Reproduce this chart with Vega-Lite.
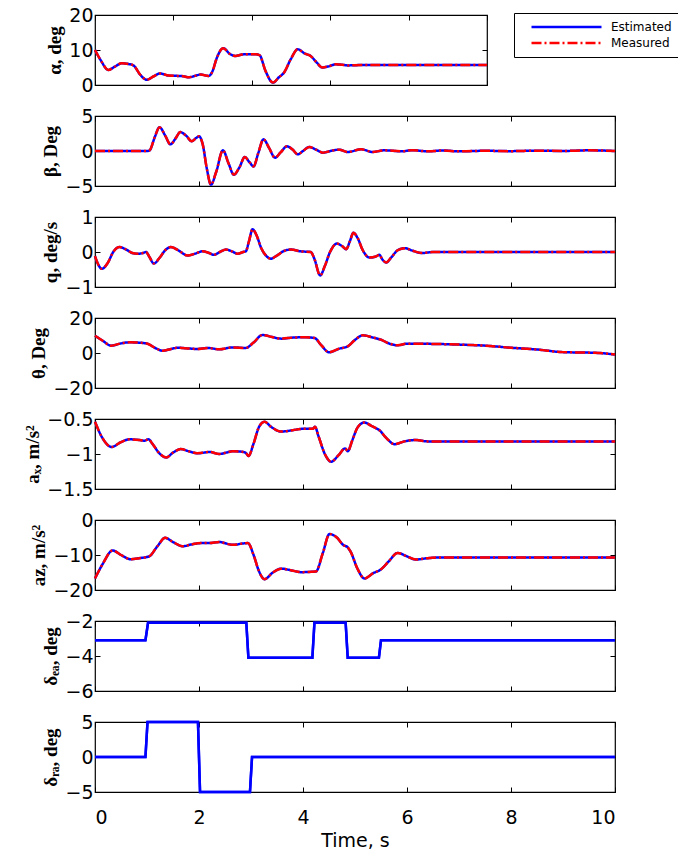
{
  "$schema": "https://vega.github.io/schema/vega-lite/v6.json",
  "padding": {"left": 23, "top": 5, "right": 0, "bottom": 5},
  "background": "white",
  "config": {
    "view": {"stroke": "black", "strokeWidth": 1.2},
    "axis": {"grid": false, "domain": false, "tickColor": "black", "tickSize": -5, "tickWidth": 1, "labelFont": "DejaVu Sans", "labelFontSize": 19, "labelColor": "black", "labelPadding": 7, "titleFont": "Liberation Serif", "titleFontWeight": "bold", "titleFontSize": 19, "titleColor": "black", "titlePadding": 4, "format": "~r"},
    "line": {"strokeWidth": 2.5}
  },
  "datasets": {
    "alpha": [{"t":0,"v":10.0},{"t":0.15,"v":7.0},{"t":0.34,"v":4.3},{"t":0.5,"v":5.2},{"t":0.68,"v":6.2},{"t":0.85,"v":6.0},{"t":0.98,"v":5.6},{"t":1.15,"v":3.0},{"t":1.32,"v":1.5},{"t":1.5,"v":2.5},{"t":1.66,"v":3.3},{"t":1.88,"v":2.7},{"t":2.1,"v":2.6},{"t":2.25,"v":2.5},{"t":2.39,"v":2.2},{"t":2.55,"v":2.6},{"t":2.69,"v":3.0},{"t":2.9,"v":2.6},{"t":3.0,"v":4.0},{"t":3.1,"v":7.5},{"t":3.27,"v":10.5},{"t":3.45,"v":8.8},{"t":3.58,"v":8.3},{"t":3.75,"v":8.7},{"t":3.88,"v":8.8},{"t":4.1,"v":8.8},{"t":4.2,"v":8.5},{"t":4.35,"v":4.0},{"t":4.54,"v":0.7},{"t":4.7,"v":2.3},{"t":4.82,"v":3.5},{"t":5.0,"v":7.5},{"t":5.17,"v":10.2},{"t":5.35,"v":9.0},{"t":5.5,"v":8.3},{"t":5.65,"v":6.5},{"t":5.8,"v":5.0},{"t":5.95,"v":5.3},{"t":6.14,"v":5.9},{"t":6.3,"v":5.8},{"t":6.44,"v":5.6},{"t":6.8,"v":5.7},{"t":7.5,"v":5.7},{"t":8.5,"v":5.7},{"t":10,"v":5.7}],
    "beta": [{"t":0,"v":0},{"t":0.5,"v":0},{"t":1.0,"v":0},{"t":1.05,"v":0.1},{"t":1.15,"v":2.0},{"t":1.24,"v":3.4},{"t":1.35,"v":2.2},{"t":1.45,"v":0.95},{"t":1.55,"v":1.8},{"t":1.64,"v":2.7},{"t":1.75,"v":2.2},{"t":1.86,"v":1.4},{"t":1.95,"v":1.9},{"t":2.0,"v":2.1},{"t":2.07,"v":1.0},{"t":2.15,"v":-2.5},{"t":2.23,"v":-4.8},{"t":2.33,"v":-3.0},{"t":2.46,"v":0.1},{"t":2.57,"v":-1.8},{"t":2.67,"v":-3.4},{"t":2.78,"v":-2.3},{"t":2.88,"v":-0.86},{"t":2.97,"v":-1.6},{"t":3.05,"v":-2.2},{"t":3.14,"v":-0.3},{"t":3.24,"v":1.67},{"t":3.35,"v":0.4},{"t":3.46,"v":-0.95},{"t":3.57,"v":-0.2},{"t":3.69,"v":0.67},{"t":3.8,"v":0.2},{"t":3.9,"v":-0.48},{"t":4.0,"v":0.0},{"t":4.12,"v":0.57},{"t":4.25,"v":0.2},{"t":4.38,"v":-0.24},{"t":4.55,"v":0.05},{"t":4.7,"v":0.19},{"t":4.86,"v":-0.14},{"t":5.12,"v":0.24},{"t":5.34,"v":-0.14},{"t":5.56,"v":0.1},{"t":5.9,"v":-0.05},{"t":6.1,"v":0.12},{"t":6.4,"v":-0.05},{"t":6.7,"v":0.08},{"t":7.0,"v":-0.05},{"t":7.5,"v":0.03},{"t":8.0,"v":-0.02},{"t":8.5,"v":0.05},{"t":9.0,"v":0.0},{"t":9.5,"v":0.1},{"t":10,"v":0.0}],
    "q": [{"t":0,"v":-0.12},{"t":0.06,"v":-0.35},{"t":0.13,"v":-0.48},{"t":0.25,"v":-0.3},{"t":0.35,"v":0.0},{"t":0.47,"v":0.14},{"t":0.6,"v":0.07},{"t":0.72,"v":-0.03},{"t":0.82,"v":-0.05},{"t":0.92,"v":-0.03},{"t":0.98,"v":0.0},{"t":1.05,"v":-0.15},{"t":1.13,"v":-0.33},{"t":1.25,"v":-0.15},{"t":1.35,"v":0.05},{"t":1.46,"v":0.14},{"t":1.6,"v":0.05},{"t":1.78,"v":-0.1},{"t":1.92,"v":-0.05},{"t":2.07,"v":0.02},{"t":2.18,"v":-0.02},{"t":2.29,"v":-0.08},{"t":2.4,"v":0.0},{"t":2.52,"v":0.07},{"t":2.63,"v":0.02},{"t":2.74,"v":-0.05},{"t":2.85,"v":0.0},{"t":2.9,"v":0.02},{"t":2.96,"v":0.3},{"t":3.03,"v":0.65},{"t":3.1,"v":0.5},{"t":3.2,"v":0.1},{"t":3.3,"v":-0.12},{"t":3.38,"v":-0.19},{"t":3.5,"v":-0.1},{"t":3.62,"v":0.02},{"t":3.77,"v":0.07},{"t":3.95,"v":0.02},{"t":4.15,"v":0.0},{"t":4.22,"v":-0.2},{"t":4.33,"v":-0.67},{"t":4.42,"v":-0.4},{"t":4.52,"v":0.0},{"t":4.65,"v":0.24},{"t":4.75,"v":0.17},{"t":4.83,"v":0.08},{"t":4.9,"v":0.3},{"t":4.97,"v":0.55},{"t":5.05,"v":0.4},{"t":5.15,"v":0.05},{"t":5.28,"v":-0.16},{"t":5.4,"v":-0.13},{"t":5.47,"v":-0.08},{"t":5.52,"v":-0.2},{"t":5.6,"v":-0.3},{"t":5.7,"v":-0.15},{"t":5.82,"v":0.05},{"t":5.96,"v":0.11},{"t":6.1,"v":0.04},{"t":6.29,"v":-0.03},{"t":6.5,"v":0.0},{"t":7.0,"v":0.0},{"t":10,"v":0.0}],
    "theta": [{"t":0,"v":9.9},{"t":0.15,"v":7.0},{"t":0.31,"v":4.2},{"t":0.5,"v":5.5},{"t":0.66,"v":6.1},{"t":0.85,"v":5.9},{"t":1.01,"v":5.3},{"t":1.15,"v":3.0},{"t":1.3,"v":1.3},{"t":1.45,"v":2.2},{"t":1.59,"v":3.0},{"t":1.8,"v":2.6},{"t":1.97,"v":2.3},{"t":2.17,"v":2.9},{"t":2.39,"v":2.1},{"t":2.65,"v":3.2},{"t":2.9,"v":2.9},{"t":3.05,"v":6.0},{"t":3.22,"v":10.3},{"t":3.4,"v":9.2},{"t":3.58,"v":8.2},{"t":3.8,"v":8.8},{"t":4.03,"v":9.0},{"t":4.22,"v":8.6},{"t":4.35,"v":4.5},{"t":4.5,"v":0.4},{"t":4.7,"v":2.5},{"t":4.86,"v":3.8},{"t":5.0,"v":7.5},{"t":5.15,"v":10.1},{"t":5.35,"v":8.8},{"t":5.5,"v":7.6},{"t":5.65,"v":5.5},{"t":5.82,"v":4.4},{"t":6.0,"v":5.3},{"t":6.5,"v":5.2},{"t":7.0,"v":4.8},{"t":7.5,"v":4.2},{"t":8.0,"v":3.0},{"t":8.5,"v":2.0},{"t":9.0,"v":0.5},{"t":9.5,"v":0.2},{"t":9.7,"v":0.0},{"t":10,"v":-0.9}],
    "ax": [{"t":0,"v":-0.54},{"t":0.15,"v":-0.78},{"t":0.32,"v":-0.9},{"t":0.5,"v":-0.83},{"t":0.66,"v":-0.79},{"t":0.85,"v":-0.8},{"t":0.95,"v":-0.81},{"t":1.03,"v":-0.79},{"t":1.1,"v":-0.85},{"t":1.25,"v":-1.0},{"t":1.37,"v":-1.05},{"t":1.5,"v":-0.98},{"t":1.65,"v":-0.93},{"t":1.8,"v":-0.96},{"t":1.97,"v":-0.99},{"t":2.1,"v":-0.98},{"t":2.2,"v":-0.97},{"t":2.39,"v":-1.0},{"t":2.52,"v":-0.98},{"t":2.65,"v":-0.96},{"t":2.85,"v":-0.97},{"t":2.92,"v":-1.0},{"t":2.95,"v":-1.03},{"t":3.05,"v":-0.85},{"t":3.15,"v":-0.62},{"t":3.26,"v":-0.54},{"t":3.4,"v":-0.62},{"t":3.58,"v":-0.68},{"t":3.8,"v":-0.66},{"t":3.99,"v":-0.64},{"t":4.19,"v":-0.64},{"t":4.23,"v":-0.61},{"t":4.3,"v":-0.75},{"t":4.42,"v":-1.0},{"t":4.54,"v":-1.11},{"t":4.68,"v":-1.02},{"t":4.81,"v":-0.92},{"t":4.86,"v":-0.96},{"t":4.95,"v":-0.8},{"t":5.05,"v":-0.62},{"t":5.18,"v":-0.55},{"t":5.32,"v":-0.6},{"t":5.4,"v":-0.63},{"t":5.47,"v":-0.66},{"t":5.6,"v":-0.77},{"t":5.76,"v":-0.86},{"t":5.95,"v":-0.82},{"t":6.17,"v":-0.8},{"t":6.4,"v":-0.82},{"t":7.0,"v":-0.82},{"t":10,"v":-0.82}],
    "az": [{"t":0,"v":-16.7},{"t":0.15,"v":-12.5},{"t":0.34,"v":-8.7},{"t":0.5,"v":-10.0},{"t":0.69,"v":-11.2},{"t":0.85,"v":-10.9},{"t":1.04,"v":-10.4},{"t":1.2,"v":-7.5},{"t":1.35,"v":-5.1},{"t":1.5,"v":-6.3},{"t":1.69,"v":-7.5},{"t":1.85,"v":-7.0},{"t":2.04,"v":-6.6},{"t":2.2,"v":-6.6},{"t":2.39,"v":-6.3},{"t":2.65,"v":-7.1},{"t":2.85,"v":-6.7},{"t":2.94,"v":-6.6},{"t":3.05,"v":-10.0},{"t":3.15,"v":-14.5},{"t":3.26,"v":-16.9},{"t":3.42,"v":-15.0},{"t":3.58,"v":-13.9},{"t":3.78,"v":-14.4},{"t":3.96,"v":-14.9},{"t":4.25,"v":-14.7},{"t":4.38,"v":-9.5},{"t":4.51,"v":-4.0},{"t":4.65,"v":-5.0},{"t":4.78,"v":-7.2},{"t":4.85,"v":-7.7},{"t":4.91,"v":-8.9},{"t":5.05,"v":-14.0},{"t":5.18,"v":-16.7},{"t":5.35,"v":-15.2},{"t":5.5,"v":-14.1},{"t":5.65,"v":-11.8},{"t":5.82,"v":-9.4},{"t":6.0,"v":-10.4},{"t":6.17,"v":-11.3},{"t":6.4,"v":-10.9},{"t":6.7,"v":-10.7},{"t":10,"v":-10.7}],
    "dea": [{"t":0,"v":-3.1},{"t":0.97,"v":-3.1},{"t":1.02,"v":-2.1},{"t":2.91,"v":-2.1},{"t":2.95,"v":-4.1},{"t":4.18,"v":-4.1},{"t":4.22,"v":-2.1},{"t":4.82,"v":-2.1},{"t":4.86,"v":-4.1},{"t":5.46,"v":-4.1},{"t":5.5,"v":-3.1},{"t":10,"v":-3.1}],
    "dra": [{"t":0,"v":0},{"t":0.97,"v":0},{"t":1.01,"v":5},{"t":1.98,"v":5},{"t":2.02,"v":-5},{"t":2.98,"v":-5},{"t":3.02,"v":0},{"t":10,"v":0}]
  },
  "vconcat": [
    {
      "width": 392, "height": 70,
      "data": {"name": "alpha"},
      "layer": [
        {"mark": {"type": "line", "interpolate": "monotone", "strokeWidth": 2.5},
         "encoding": {
           "x": {"field": "t", "type": "quantitative", "scale": {"domain": [0, 10], "nice": false}, "axis": {"orient": "bottom", "values": [0, 2, 4, 6, 8, 10], "labels": false, "title": null}},
           "y": {"field": "v", "type": "quantitative", "scale": {"domain": [0, 20], "nice": false, "zero": false}, "axis": {"orient": "left", "values": [0, 10, 20], "title": "α, deg"}},
           "color": {"datum": "Estimated", "scale": {"domain": ["Estimated", "Measured"], "range": ["#0000ff", "#ff0000"]}, "legend": {"orient": "none", "legendX": 419, "legendY": -2, "title": null, "symbolType": "stroke", "symbolSize": 4900, "symbolStrokeWidth": 2, "symbolOffset": 10, "clipHeight": 16, "labelFont": "DejaVu Sans", "labelFontSize": 12, "labelColor": "black", "strokeColor": "black", "fillColor": "white", "padding": 6, "rowPadding": 0, "labelOffset": 8}},
           "strokeDash": {"datum": "Estimated", "scale": {"domain": ["Estimated", "Measured"], "range": [[1, 0], [10, 3, 2, 3]]}, "legend": {"orient": "none", "legendX": 419, "legendY": -2, "title": null, "symbolType": "stroke", "symbolSize": 4900, "symbolStrokeWidth": 2, "symbolOffset": 10, "clipHeight": 16, "labelFont": "DejaVu Sans", "labelFontSize": 12, "labelColor": "black", "strokeColor": "black", "fillColor": "white", "padding": 6, "rowPadding": 0, "labelOffset": 8}}
         }},
        {"mark": {"type": "line", "interpolate": "monotone", "strokeWidth": 2.5},
         "encoding": {
           "x": {"field": "t", "type": "quantitative", "scale": {"domain": [0, 10], "nice": false}, "axis": {"orient": "top", "values": [0, 2, 4, 6, 8, 10], "labels": false, "title": null}},
           "y": {"field": "v", "type": "quantitative", "scale": {"domain": [0, 20], "nice": false, "zero": false}, "axis": {"orient": "right", "values": [0, 10, 20], "labels": false, "title": null}},
           "color": {"datum": "Measured", "scale": {"domain": ["Estimated", "Measured"], "range": ["#0000ff", "#ff0000"]}},
           "strokeDash": {"datum": "Measured", "scale": {"domain": ["Estimated", "Measured"], "range": [[1, 0], [10, 3, 2, 3]]}}
         }}
      ],
      "resolve": {"axis": {"x": "independent", "y": "independent"}}
    },
    {
      "width": 520, "height": 70,
      "data": {"name": "beta"},
      "layer": [
        {"mark": {"type": "line", "interpolate": "monotone", "strokeWidth": 2.5},
         "encoding": {
           "x": {"field": "t", "type": "quantitative", "scale": {"domain": [0, 10], "nice": false}, "axis": {"orient": "bottom", "values": [0, 2, 4, 6, 8, 10], "labels": false, "title": null}},
           "y": {"field": "v", "type": "quantitative", "scale": {"domain": [-5, 5], "nice": false, "zero": false}, "axis": {"orient": "left", "values": [-5, 0, 5], "title": "β, Deg"}},
           "color": {"datum": "Estimated", "scale": {"domain": ["Estimated", "Measured"], "range": ["#0000ff", "#ff0000"]}, "legend": null},
           "strokeDash": {"datum": "Estimated", "scale": {"domain": ["Estimated", "Measured"], "range": [[1, 0], [10, 3, 2, 3]]}, "legend": null}
         }},
        {"mark": {"type": "line", "interpolate": "monotone", "strokeWidth": 2.5},
         "encoding": {
           "x": {"field": "t", "type": "quantitative", "scale": {"domain": [0, 10], "nice": false}, "axis": {"orient": "top", "values": [0, 2, 4, 6, 8, 10], "labels": false, "title": null}},
           "y": {"field": "v", "type": "quantitative", "scale": {"domain": [-5, 5], "nice": false, "zero": false}, "axis": {"orient": "right", "values": [-5, 0, 5], "labels": false, "title": null}},
           "color": {"datum": "Measured", "scale": {"domain": ["Estimated", "Measured"], "range": ["#0000ff", "#ff0000"]}, "legend": null},
           "strokeDash": {"datum": "Measured", "scale": {"domain": ["Estimated", "Measured"], "range": [[1, 0], [10, 3, 2, 3]]}, "legend": null}
         }}
      ],
      "resolve": {"axis": {"x": "independent", "y": "independent"}}
    },
    {
      "width": 520, "height": 70,
      "data": {"name": "q"},
      "layer": [
        {"mark": {"type": "line", "interpolate": "monotone", "strokeWidth": 2.5},
         "encoding": {
           "x": {"field": "t", "type": "quantitative", "scale": {"domain": [0, 10], "nice": false}, "axis": {"orient": "bottom", "values": [0, 2, 4, 6, 8, 10], "labels": false, "title": null}},
           "y": {"field": "v", "type": "quantitative", "scale": {"domain": [-1, 1], "nice": false, "zero": false}, "axis": {"orient": "left", "values": [-1, 0, 1], "title": "q, deg/s"}},
           "color": {"datum": "Estimated", "scale": {"domain": ["Estimated", "Measured"], "range": ["#0000ff", "#ff0000"]}, "legend": null},
           "strokeDash": {"datum": "Estimated", "scale": {"domain": ["Estimated", "Measured"], "range": [[1, 0], [10, 3, 2, 3]]}, "legend": null}
         }},
        {"mark": {"type": "line", "interpolate": "monotone", "strokeWidth": 2.5},
         "encoding": {
           "x": {"field": "t", "type": "quantitative", "scale": {"domain": [0, 10], "nice": false}, "axis": {"orient": "top", "values": [0, 2, 4, 6, 8, 10], "labels": false, "title": null}},
           "y": {"field": "v", "type": "quantitative", "scale": {"domain": [-1, 1], "nice": false, "zero": false}, "axis": {"orient": "right", "values": [-1, 0, 1], "labels": false, "title": null}},
           "color": {"datum": "Measured", "scale": {"domain": ["Estimated", "Measured"], "range": ["#0000ff", "#ff0000"]}, "legend": null},
           "strokeDash": {"datum": "Measured", "scale": {"domain": ["Estimated", "Measured"], "range": [[1, 0], [10, 3, 2, 3]]}, "legend": null}
         }}
      ],
      "resolve": {"axis": {"x": "independent", "y": "independent"}}
    },
    {
      "width": 520, "height": 70,
      "data": {"name": "theta"},
      "layer": [
        {"mark": {"type": "line", "interpolate": "monotone", "strokeWidth": 2.5},
         "encoding": {
           "x": {"field": "t", "type": "quantitative", "scale": {"domain": [0, 10], "nice": false}, "axis": {"orient": "bottom", "values": [0, 2, 4, 6, 8, 10], "labels": false, "title": null}},
           "y": {"field": "v", "type": "quantitative", "scale": {"domain": [-20, 20], "nice": false, "zero": false}, "axis": {"orient": "left", "values": [-20, 0, 20], "title": "θ, Deg"}},
           "color": {"datum": "Estimated", "scale": {"domain": ["Estimated", "Measured"], "range": ["#0000ff", "#ff0000"]}, "legend": null},
           "strokeDash": {"datum": "Estimated", "scale": {"domain": ["Estimated", "Measured"], "range": [[1, 0], [10, 3, 2, 3]]}, "legend": null}
         }},
        {"mark": {"type": "line", "interpolate": "monotone", "strokeWidth": 2.5},
         "encoding": {
           "x": {"field": "t", "type": "quantitative", "scale": {"domain": [0, 10], "nice": false}, "axis": {"orient": "top", "values": [0, 2, 4, 6, 8, 10], "labels": false, "title": null}},
           "y": {"field": "v", "type": "quantitative", "scale": {"domain": [-20, 20], "nice": false, "zero": false}, "axis": {"orient": "right", "values": [-20, 0, 20], "labels": false, "title": null}},
           "color": {"datum": "Measured", "scale": {"domain": ["Estimated", "Measured"], "range": ["#0000ff", "#ff0000"]}, "legend": null},
           "strokeDash": {"datum": "Measured", "scale": {"domain": ["Estimated", "Measured"], "range": [[1, 0], [10, 3, 2, 3]]}, "legend": null}
         }}
      ],
      "resolve": {"axis": {"x": "independent", "y": "independent"}}
    },
    {
      "width": 520, "height": 70,
      "data": {"name": "ax"},
      "layer": [
        {"mark": {"type": "line", "interpolate": "monotone", "strokeWidth": 2.5},
         "encoding": {
           "x": {"field": "t", "type": "quantitative", "scale": {"domain": [0, 10], "nice": false}, "axis": {"orient": "bottom", "values": [0, 2, 4, 6, 8, 10], "labels": false, "title": null}},
           "y": {"field": "v", "type": "quantitative", "scale": {"domain": [-1.5, -0.5], "nice": false, "zero": false}, "axis": {"orient": "left", "values": [-1.5, -1, -0.5], "title": "aₓ, m/s²"}},
           "color": {"datum": "Estimated", "scale": {"domain": ["Estimated", "Measured"], "range": ["#0000ff", "#ff0000"]}, "legend": null},
           "strokeDash": {"datum": "Estimated", "scale": {"domain": ["Estimated", "Measured"], "range": [[1, 0], [10, 3, 2, 3]]}, "legend": null}
         }},
        {"mark": {"type": "line", "interpolate": "monotone", "strokeWidth": 2.5},
         "encoding": {
           "x": {"field": "t", "type": "quantitative", "scale": {"domain": [0, 10], "nice": false}, "axis": {"orient": "top", "values": [0, 2, 4, 6, 8, 10], "labels": false, "title": null}},
           "y": {"field": "v", "type": "quantitative", "scale": {"domain": [-1.5, -0.5], "nice": false, "zero": false}, "axis": {"orient": "right", "values": [-1.5, -1, -0.5], "labels": false, "title": null}},
           "color": {"datum": "Measured", "scale": {"domain": ["Estimated", "Measured"], "range": ["#0000ff", "#ff0000"]}, "legend": null},
           "strokeDash": {"datum": "Measured", "scale": {"domain": ["Estimated", "Measured"], "range": [[1, 0], [10, 3, 2, 3]]}, "legend": null}
         }}
      ],
      "resolve": {"axis": {"x": "independent", "y": "independent"}}
    },
    {
      "width": 520, "height": 70,
      "data": {"name": "az"},
      "layer": [
        {"mark": {"type": "line", "interpolate": "monotone", "strokeWidth": 2.5},
         "encoding": {
           "x": {"field": "t", "type": "quantitative", "scale": {"domain": [0, 10], "nice": false}, "axis": {"orient": "bottom", "values": [0, 2, 4, 6, 8, 10], "labels": false, "title": null}},
           "y": {"field": "v", "type": "quantitative", "scale": {"domain": [-20, 0], "nice": false, "zero": false}, "axis": {"orient": "left", "values": [-20, -10, 0], "title": "az, m/s²"}},
           "color": {"datum": "Estimated", "scale": {"domain": ["Estimated", "Measured"], "range": ["#0000ff", "#ff0000"]}, "legend": null},
           "strokeDash": {"datum": "Estimated", "scale": {"domain": ["Estimated", "Measured"], "range": [[1, 0], [10, 3, 2, 3]]}, "legend": null}
         }},
        {"mark": {"type": "line", "interpolate": "monotone", "strokeWidth": 2.5},
         "encoding": {
           "x": {"field": "t", "type": "quantitative", "scale": {"domain": [0, 10], "nice": false}, "axis": {"orient": "top", "values": [0, 2, 4, 6, 8, 10], "labels": false, "title": null}},
           "y": {"field": "v", "type": "quantitative", "scale": {"domain": [-20, 0], "nice": false, "zero": false}, "axis": {"orient": "right", "values": [-20, -10, 0], "labels": false, "title": null}},
           "color": {"datum": "Measured", "scale": {"domain": ["Estimated", "Measured"], "range": ["#0000ff", "#ff0000"]}, "legend": null},
           "strokeDash": {"datum": "Measured", "scale": {"domain": ["Estimated", "Measured"], "range": [[1, 0], [10, 3, 2, 3]]}, "legend": null}
         }}
      ],
      "resolve": {"axis": {"x": "independent", "y": "independent"}}
    },
    {
      "width": 520, "height": 70,
      "data": {"name": "dea"},
      "layer": [
        {"mark": {"type": "line", "strokeWidth": 2.5},
         "encoding": {
           "x": {"field": "t", "type": "quantitative", "scale": {"domain": [0, 10], "nice": false}, "axis": {"orient": "bottom", "values": [0, 2, 4, 6, 8, 10], "labels": false, "title": null}},
           "y": {"field": "v", "type": "quantitative", "scale": {"domain": [-6, -2], "nice": false, "zero": false}, "axis": {"orient": "left", "values": [-6, -4, -2], "title": "δₑₐ, deg"}},
           "color": {"datum": "Estimated", "scale": {"domain": ["Estimated", "Measured"], "range": ["#0000ff", "#ff0000"]}, "legend": null}
         }},
        {"mark": {"type": "line", "strokeWidth": 2.5},
         "encoding": {
           "x": {"field": "t", "type": "quantitative", "scale": {"domain": [0, 10], "nice": false}, "axis": {"orient": "top", "values": [0, 2, 4, 6, 8, 10], "labels": false, "title": null}},
           "y": {"field": "v", "type": "quantitative", "scale": {"domain": [-6, -2], "nice": false, "zero": false}, "axis": {"orient": "right", "values": [-6, -4, -2], "labels": false, "title": null}},
           "color": {"datum": "Estimated", "scale": {"domain": ["Estimated", "Measured"], "range": ["#0000ff", "#ff0000"]}, "legend": null}
         }}
      ],
      "resolve": {"axis": {"x": "independent", "y": "independent"}}
    },
    {
      "width": 520, "height": 70,
      "data": {"name": "dra"},
      "layer": [
        {"mark": {"type": "line", "strokeWidth": 2.5},
         "encoding": {
           "x": {"field": "t", "type": "quantitative", "scale": {"domain": [0, 10], "nice": false}, "axis": {"orient": "bottom", "values": [0, 2, 4, 6, 8, 10], "labels": true, "labelPadding": 21, "title": "Time, s", "titleFont": "DejaVu Sans", "titleFontWeight": "normal", "titleFontSize": 19, "titlePadding": 4}},
           "y": {"field": "v", "type": "quantitative", "scale": {"domain": [-5, 5], "nice": false, "zero": false}, "axis": {"orient": "left", "values": [-5, 0, 5], "title": "δᵣₐ, deg"}},
           "color": {"datum": "Estimated", "scale": {"domain": ["Estimated", "Measured"], "range": ["#0000ff", "#ff0000"]}, "legend": null}
         }},
        {"mark": {"type": "line", "strokeWidth": 2.5},
         "encoding": {
           "x": {"field": "t", "type": "quantitative", "scale": {"domain": [0, 10], "nice": false}, "axis": {"orient": "top", "values": [0, 2, 4, 6, 8, 10], "labels": false, "title": null}},
           "y": {"field": "v", "type": "quantitative", "scale": {"domain": [-5, 5], "nice": false, "zero": false}, "axis": {"orient": "right", "values": [-5, 0, 5], "labels": false, "title": null}},
           "color": {"datum": "Estimated", "scale": {"domain": ["Estimated", "Measured"], "range": ["#0000ff", "#ff0000"]}, "legend": null}
         }}
      ],
      "resolve": {"axis": {"x": "independent", "y": "independent"}}
    }
  ],
  "spacing": 31,
  "bounds": "flush",
  "resolve": {"legend": {"color": "independent", "strokeDash": "independent"}}
}
